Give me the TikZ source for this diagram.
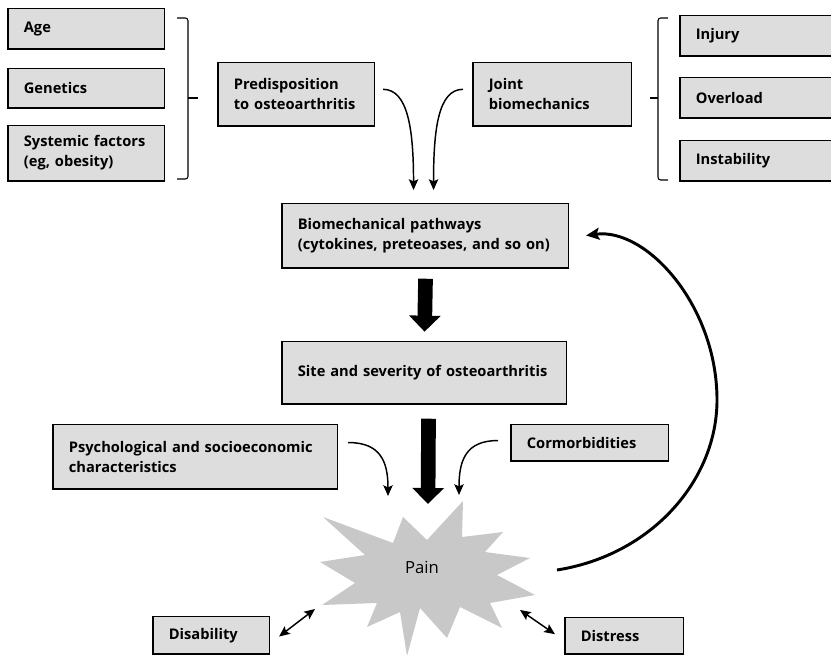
\documentclass[tikz,border=0pt]{standalone}
\usepackage{fontspec}
\setmainfont{Open Sans}
\usetikzlibrary{arrows.meta}
\definecolor{boxgray}{RGB}{221,221,221}
\definecolor{stargray}{RGB}{200,200,200}
\tikzset{
  box/.style={draw, fill=boxgray, line width=0.8pt, anchor=north west, align=left,
    inner xsep=11.5pt, font=\fontsize{11}{15}\selectfont\bfseries},
  thinarrow/.style={-{Stealth[length=8pt,width=7pt,inset=1.5pt]}, line width=1.1pt},
  bothways/.style={{Stealth[length=8pt,width=7pt,inset=1.5pt]}-{Stealth[length=8pt,width=7pt,inset=1.5pt]}, line width=1.1pt},
  fatarrow/.style={-{Triangle[length=12pt,width=23pt]}, line width=11pt},
}
\begin{document}
\begin{tikzpicture}[x=0.75pt,y=-0.75pt]
  \useasboundingbox (0,0) rectangle (831,655);

  % risk factors on the left
  \node[box, text width=94pt, minimum height=30pt] (age) at (8,8) {Age};
  \node[box, text width=94pt, minimum height=29pt] (gen) at (8,68) {Genetics};
  \node[box, text width=94pt, minimum height=41pt] (sys) at (8,125) {Systemic factors\\(eg, obesity)};
  \draw[line width=0.8pt, rounded corners=2pt] (177,18) -- (188,18) -- (188,179) -- (177,179);
  \draw[line width=0.8pt] (188,98) -- (198,98);

  % risk factors on the right
  \node[box, text width=94pt, minimum height=30pt] (inj) at (680,15) {Injury};
  \node[box, text width=94pt, minimum height=30pt] (ovl) at (680,77) {Overload};
  \node[box, text width=94pt, minimum height=30pt] (ins) at (680,140) {Instability};
  \draw[line width=0.8pt, rounded corners=2pt] (668,18) -- (658,18) -- (658,180) -- (668,180);
  \draw[line width=0.8pt] (658,98) -- (650,98);

  % middle column
  \node[box, text width=94pt, minimum height=47pt] (pre) at (218,62) {Predisposition\\to osteoarthritis};
  \node[box, text width=95.5pt, minimum height=47pt] (joi) at (473,62) {Joint\\biomechanics};
  \node[box, text width=191.5pt, minimum height=48pt] (bio) at (282,203) {Biomechanical pathways\\(cytokines, preteoases, and so on)};
  \node[box, text width=190pt, minimum height=46.5pt] (sit) at (282,341) {Site and severity of osteoarthritis};
  \node[box, text width=190pt, minimum height=48pt] (psy) at (53,424) {Psychological and socioeconomic\\characteristics};
  \node[box, text width=95pt, minimum height=27pt] (com) at (511,424) {Cormorbidities};
  \node[box, text width=64pt, minimum height=28pt] (dis) at (153,616) {Disability};
  \node[box, text width=65.5pt, minimum height=27pt] (dst) at (565,617) {Distress};

  % heavier left and bottom edges
  \foreach \n in {age,gen,sys,inj,ovl,ins,pre,joi,bio,sit,psy,com,dis,dst}
    \draw[line width=1.3pt] (\n.north west) -- (\n.south west) -- (\n.south east);

  % the pain star
  \fill[stargray] (463,501) -- (462,537) -- (503,532) -- (485,552) -- (530,558) -- (497,575)
    -- (535,595) -- (490,603) -- (502,628) -- (460,607) -- (447,638) -- (420,608)
    -- (407,656) -- (400,612) -- (367,627) -- (377,603) -- (322,605) -- (355,583)
    -- (320,562) -- (365,555) -- (323,517) -- (393,543) -- (403,517) -- (427,540) -- cycle;
  \node[font=\fontsize{12.5}{15}\selectfont] (pain) at (422,567) {Pain};
  \coordinate (paintop) at (428,504);
  \coordinate (painleft) at (388,496);
  \coordinate (painright) at (459,495);
  \coordinate (painback) at (557,570);
  \coordinate (painsw) at (315,609);
  \coordinate (painse) at (520,610);

  % connectors
  \draw[thinarrow] ([xshift=6pt,yshift=3.4pt]pre.east) .. controls +(25,0) and +(0,-60) .. ([xshift=-9pt,yshift=9.75pt]bio.north);
  \draw[thinarrow] ([xshift=-7.5pt,yshift=3.4pt]joi.west) .. controls +(-25,0) and +(0,-60) .. ([xshift=6pt,yshift=9.75pt]bio.north);
  \draw[fatarrow] ([yshift=-8pt]bio.south) -- ([yshift=7pt]sit.north);
  \draw[fatarrow] ([xshift=3pt,yshift=-11pt]sit.south) -- (paintop);
  \draw[thinarrow] ([xshift=7.5pt,yshift=10.5pt]psy.east) .. controls +(32,0) and +(0,-35) .. (painleft);
  \draw[thinarrow] ([xshift=-9.75pt,yshift=1.5pt]com.west) .. controls +(-32,0) and +(0,-35) .. (painright);
  \draw[line width=2.2pt, -{Stealth[length=10pt,width=9pt,inset=2pt]}] (painback)
    .. controls +(95,-15) and +(0,80) .. (717,400)
    .. controls +(0,-95) and +(60,-8) .. ([xshift=12.75pt]bio.east);
  \draw[bothways] ([xshift=6.75pt,yshift=-1pt]dis.east) -- (painsw);
  \draw[bothways] (painse) -- ([xshift=-7.5pt,yshift=1pt]dst.west);
\end{tikzpicture}
\end{document}
